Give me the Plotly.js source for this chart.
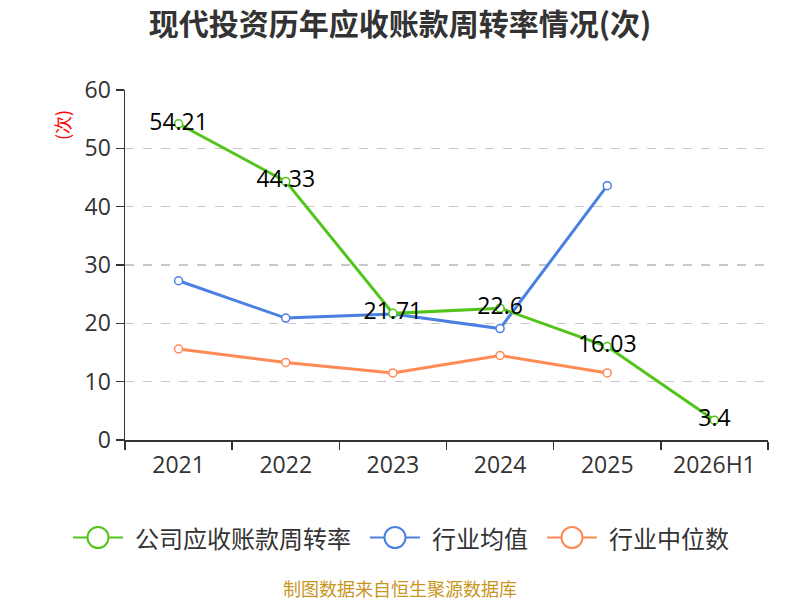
<!DOCTYPE html>
<html>
<head>
<meta charset="utf-8">
<script src="https://cdn.plot.ly/plotly-3.0.1.min.js"></script>
<style>html,body{margin:0;padding:0;background:#fff;}#chart{width:800px;height:600px;}</style>
</head>
<body>
<div id="chart"></div>
<script>
var categories = ["2021", "2022", "2023", "2024", "2025", "2026H1"];
var companyValues = [54.21, 44.33, 21.71, 22.6, 16.03, 3.4];
var industryAvg = [27.3, 20.9, 21.6, 19.1, 43.6, null];
var industryMedian = [15.6, 13.3, 11.5, 14.5, 11.5, null];
var seriesNames = ["公司应收账款周转率", "行业均值", "行业中位数"];
var seriesColors = ['#52c41a', '#4a80e2', '#ff8a55'];

var FONT = '"Open Sans", "Noto Sans CJK SC", sans-serif';
var CJK = '"Noto Sans CJK SC", sans-serif';

// plot area in pixels (for layout of legend decorations)
var PL = 125, PR = 768, PT = 90, PB = 440;
function px(x) { return (x - PL) / (PR - PL); }
function py(y) { return (PB - y) / (PB - PT); }

function mk(name, y, color, withText) {
  var t = {
    type: 'scatter', mode: withText ? 'lines+markers+text' : 'lines+markers',
    name: name, x: categories, y: y, showlegend: false,
    line: {color: color, width: 3},
    marker: {symbol: 'circle', size: 8, color: '#ffffff', line: {color: color, width: 1.5}},
    cliponaxis: false, hoverinfo: 'x+y'
  };
  if (withText) {
    t.text = y.map(function(v){ return String(v); });
    t.textposition = 'middle center';
    t.textfont = {family: FONT, size: 23, color: '#000000'};
  }
  return t;
}

var data = [
  mk(seriesNames[1], industryAvg, seriesColors[1], false),
  mk(seriesNames[2], industryMedian, seriesColors[2], false),
  mk(seriesNames[0], companyValues, seriesColors[0], true)
];

// custom legend (symbol: line with open circle, then text)
var legendStarts = [73, 370, 547];
var legendY = 537.5;
var shapes = [], annotations = [];
seriesNames.forEach(function(name, i) {
  var x0 = legendStarts[i], c = seriesColors[i], cx = x0 + 25, r = 10.5;
  shapes.push({type: 'line', xref: 'paper', yref: 'paper', x0: px(x0), x1: px(cx - r), y0: py(legendY), y1: py(legendY),
               line: {color: c, width: 2}});
  shapes.push({type: 'line', xref: 'paper', yref: 'paper', x0: px(cx + r), x1: px(x0 + 50), y0: py(legendY), y1: py(legendY),
               line: {color: c, width: 2}});
  shapes.push({type: 'circle', xref: 'paper', yref: 'paper', x0: px(cx - r), x1: px(cx + r), y0: py(legendY - r), y1: py(legendY + r),
               line: {color: c, width: 2}, fillcolor: '#ffffff'});
  annotations.push({text: name, xref: 'paper', yref: 'paper', x: px(x0 + 60), y: py(legendY), xanchor: 'left', yanchor: 'middle',
                    showarrow: false, font: {family: CJK, size: 24, color: '#333333'}});
});
annotations.push({text: '(次)', xref: 'paper', yref: 'paper', x: px(62), y: py(125), xanchor: 'center', yanchor: 'middle',
     textangle: -90, showarrow: false, font: {family: CJK, size: 18, color: '#ff0000'}});
annotations.push({text: '制图数据来自恒生聚源数据库', xref: 'paper', yref: 'paper', x: px(400), y: py(588), xanchor: 'center', yanchor: 'middle',
     showarrow: false, font: {family: CJK, size: 18, color: '#c8961e'}});

var layout = {
  width: 800, height: 600,
  paper_bgcolor: '#ffffff', plot_bgcolor: '#ffffff',
  margin: {l: PL, r: 800 - PR, t: PT, b: 600 - PB},
  font: {family: FONT, color: '#333333'},
  title: {text: '<b>现代投资历年应收账款周转率情况(次)</b>', x: 0.5, xanchor: 'center', y: 1 - 24 / 600, yanchor: 'middle',
          font: {family: CJK, size: 30, color: '#333333'}},
  xaxis: {
    type: 'category', range: [-0.5, 5.5], tickson: 'boundaries',
    showline: true, linecolor: '#333333', linewidth: 1.5,
    ticks: 'outside', ticklen: 8, tickcolor: '#333333', tickwidth: 1.5,
    showgrid: false, zeroline: false, ticklabelstandoff: 4,
    tickfont: {family: FONT, size: 23, color: '#333333'}
  },
  yaxis: {
    range: [0, 60], dtick: 10, tick0: 0,
    showline: true, linecolor: '#333333', linewidth: 1.5,
    ticks: 'outside', ticklen: 8, tickcolor: '#333333', tickwidth: 1.5,
    showgrid: true, gridcolor: '#c8c8c8', griddash: 'dash', gridwidth: 1.5,
    zeroline: false,
    tickfont: {family: FONT, size: 23, color: '#333333'}
  },
  showlegend: false,
  shapes: shapes,
  annotations: annotations
};
Plotly.newPlot('chart', data, layout, {displayModeBar: false, staticPlot: true});
</script>
</body>
</html>
